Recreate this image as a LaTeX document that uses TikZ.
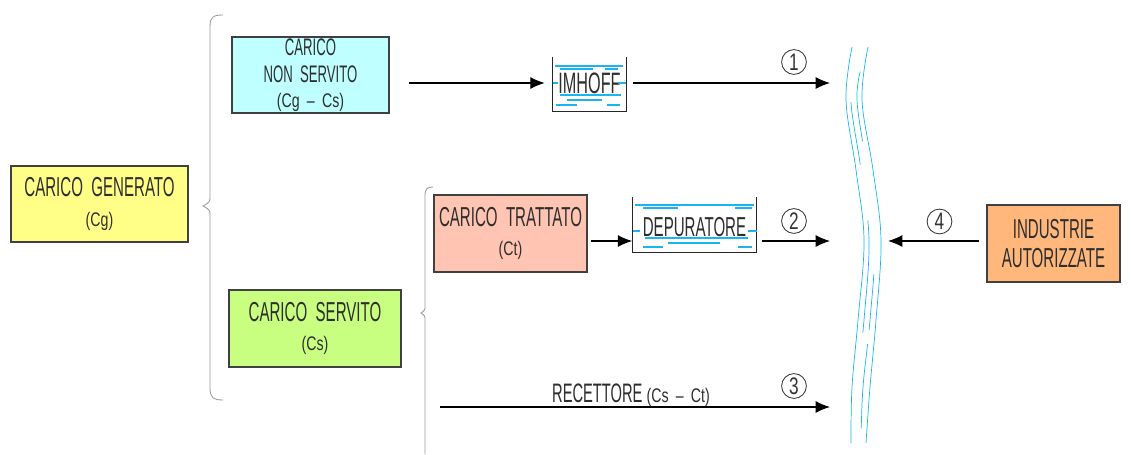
\documentclass[tikz,border=0pt]{standalone}
\usepackage{fontspec}
\setmainfont[FakeStretch=0.55]{Liberation Sans}
\newfontfamily\minore[FakeStretch=0.72,Ligatures=TeX]{Liberation Sans}
\usetikzlibrary{arrows.meta}

\definecolor{cGen}{HTML}{FFFF88}
\definecolor{cNon}{HTML}{C0FFFF}
\definecolor{cServ}{HTML}{C8FF80}
\definecolor{cTratt}{HTML}{FFC4B2}
\definecolor{cInd}{HTML}{FFB77C}
\definecolor{acqua}{HTML}{1AB4F0}
\definecolor{testo}{HTML}{2E2E2E}

\newcommand{\grande}{\fontsize{19.5}{22}\selectfont}
\newcommand{\medio}{\fontsize{17}{19.5}\selectfont}
\newcommand{\piccolo}{\minore\fontsize{14}{15}\selectfont}

\tikzset{
  carico/.style={draw=black!75, line width=0.8pt, align=center, inner sep=0pt,
    text=testo, font=\grande},
  vasca/.style={inner sep=0pt},
  numero/.style={circle, draw=black!80, line width=0.6pt, inner sep=0pt,
    minimum size=0.62cm, font=\minore\fontsize{17}{17}\selectfont, text=black!80},
  freccia/.style={line width=0.8pt, -{Latex[length=0.36cm,width=0.3cm]}},
  graffa/.style={draw=black!40, line width=0.6pt},
  fiume/.style={draw=acqua, line width=0.5pt},
}

\begin{document}
\begin{tikzpicture}[x=0.025cm, y=-0.025cm]
  \useasboundingbox (0,0) rectangle (1131,454);

  % caselle dei carichi
  \node[carico, fill=cGen, minimum width=4.425cm, minimum height=1.9cm] (gen) at (99.5,204)
    {CARICO\ \ GENERATO\\[-1pt]{\piccolo (Cg)}};
  \node[carico, fill=cNon, font=\medio, minimum width=3.925cm, minimum height=1.9cm] (nonserv) at (310.5,75)
    {CARICO\\NON\ \ SERVITO\\[-2pt]{\piccolo (Cg \,–\, Cs)}};
  \node[carico, fill=cServ, minimum width=4.3cm, minimum height=1.925cm] (serv) at (315,328.5)
    {CARICO\ \ SERVITO\\[-1pt]{\piccolo (Cs)}};
  \node[carico, fill=cTratt, minimum width=3.825cm, minimum height=1.925cm] (tratt) at (510.5,233.5)
    {CARICO\ \ TRATTATO\\[-1pt]{\piccolo (Ct)}};
  \node[carico, fill=cInd, font=\fontsize{19.5}{20}\selectfont, minimum width=3.325cm, minimum height=1.925cm] (ind) at (1053.5,243.5)
    {INDUSTRIE\\AUTORIZZATE};

  % vasche
  \node[vasca, minimum width=1.825cm, minimum height=1.35cm] (imhoff) at (589.5,84) {};
  \node[font=\fontsize{21}{21}\selectfont, text=testo] (timh) at (589.5,83) {IMHOFF};
  \node[vasca, minimum width=3.1cm, minimum height=1.375cm] (depur) at (694.5,225) {};
  \node[font=\fontsize{19.5}{19.5}\selectfont, text=testo] (tdep) at (694.5,227) {DEPURATORE};
  \draw[black!85, line width=0.8pt] (imhoff.north west) |- (imhoff.south east) -- (imhoff.north east);
  \draw[black!85, line width=0.8pt] (depur.north west) |- (depur.south east) -- (depur.north east);
  \draw[acqua, line width=0.9pt]
    (555,66) -- (623,66) (560,69) -- (593,69) (605,69) -- (618,69)
    (553,83) -- (558,83) (618,83) -- (626,83)
    (560,95) -- (621,95) (567,100) -- (602,100)
    (556,105) -- (577,105) (607,105) -- (620,105);
  \draw[acqua, line width=0.9pt]
    (635,205) -- (754,205) (643,208) -- (678,208) (735,208) -- (752,208)
    (633,231) -- (640,231) (748,231) -- (757,231)
    (645,238) -- (748,238) (668,243) -- (720,243)
    (643,247) -- (663,247) (738,247) -- (752,247);

  % fiume
  \draw[fiume] plot[smooth, tension=0.6] coordinates
    {(852,47) (846,100) (856,170) (864,240) (858,320) (852,387) (851,443)};
  \draw[fiume] plot[smooth, tension=0.6] coordinates
    {(868,47) (862,100) (873,170) (881,240) (876,320) (870,387) (866,443)};
  \draw[fiume, dash pattern=on 0pt off 20pt on 45pt off 40pt on 80pt off 150pt on 60pt off 100pt]
    plot[smooth, tension=0.6] coordinates
    {(857,75) (851,102) (861,170) (869,240) (864,320) (857,387) (856,440)};
  \draw[fiume, dash pattern=on 0pt off 5pt on 50pt off 95pt on 40pt off 10pt on 60pt off 200pt]
    plot[smooth, tension=0.6] coordinates
    {(862,65) (857,100) (867,170) (875,240) (870,320) (863,387) (861,440)};

  % punti di arrivo sul fiume
  \coordinate (r1) at (830,83);
  \coordinate (r2) at (830,241);
  \coordinate (r3) at (830,407);
  \coordinate (r4) at (888,241);
  \coordinate (rec) at (440,407);

  % frecce
  \draw[freccia, shorten <=0.475cm, shorten >=0.2cm] (nonserv.east |- r1) -- (imhoff.west |- r1);
  \draw[freccia, shorten <=0.175cm] (imhoff.east |- r1) -- (r1);
  \draw[freccia, shorten <=0.075cm] (tratt.east |- r2) -- (depur.west |- r2);
  \draw[freccia, shorten <=0.125cm] (depur.east |- r2) -- (r2);
  \draw[freccia] (rec) -- (r3);
  \draw[freccia, shorten <=0.175cm] (ind.west |- r4) -- (r4);
  \node[anchor=base, text=testo, font=\fontsize{19}{19}\selectfont] (lrec) at (631,402)
    {RECETTORE\ {\piccolo(Cs \,–\, Ct)}};

  % numeri
  \node[numero] (n1) at (794,62) {1};
  \node[numero] (n2) at (794,221) {2};
  \node[numero] (n3) at (794,386) {3};
  \node[numero] (n4) at (939.5,221.5) {4};

  % graffe
  \draw[graffa] (223,15) .. controls (213,15) and (210,17) .. (210,27) -- (210,196)
    .. controls (210,202) .. (203,206) .. controls (210,210) .. (210,216) -- (210,388)
    .. controls (210,397) and (213,400) .. (223,400);
  \draw[graffa] (433,187) .. controls (427,187) and (425,189) .. (425,196) -- (425,306)
    .. controls (425,310) .. (421,313) .. controls (425,316) .. (425,320) -- (425,454);
\end{tikzpicture}
\end{document}
